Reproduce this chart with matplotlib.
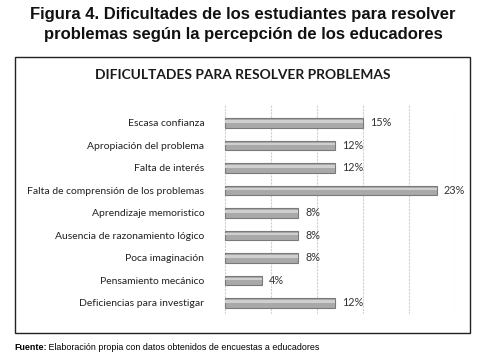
import matplotlib
matplotlib.use("Agg")
import matplotlib.pyplot as plt
from matplotlib.patches import Rectangle

# data
categories = [
    "Escasa confianza",
    "Apropiación del problema",
    "Falta de interés",
    "Falta de comprensión de los problemas",
    "Aprendizaje memoristico",
    "Ausencia de razonamiento lógico",
    "Poca imaginación",
    "Pensamiento mecánico",
    "Deficiencias para investigar",
]
values = [15, 12, 12, 23, 8, 8, 8, 4, 12]
value_labels = [f"{v}%" for v in values]
grid_ticks = [0, 5, 10, 15, 20, 25]

W, H = 486, 361
fig = plt.figure(figsize=(W / 100, H / 100), dpi=100)

# outer titles
fig.text(0.5, 1 - 15 / H, "Figura 4. Dificultades de los estudiantes para resolver",
         ha="center", va="center", fontsize=12, fontweight="bold",
         family="Liberation Sans", color="#111111")
fig.text(0.5, 1 - 35 / H, "problemas según la percepción de los educadores",
         ha="center", va="center", fontsize=12, fontweight="bold",
         family="Liberation Sans", color="#111111")

# frame around the chart
fig.patches.append(Rectangle((15 / W, 1 - 333 / H), 455 / W, 276 / H,
                             transform=fig.transFigure, fill=False,
                             edgecolor="#222222", linewidth=1.0))

fig.text(243 / W, 1 - 75 / H, "DIFICULTADES PARA RESOLVER PROBLEMAS",
         ha="center", va="center", fontsize=9.9, fontweight="bold",
         family="Lato", color="#1a1a1a")

ax = fig.add_axes([221 / W, 1 - 314 / H, 234 / W, 210 / H])
y = list(range(len(categories)))

for g in grid_ticks:
    ax.axvline(g, color="#d0d0d0", linewidth=0.8, linestyle=(0, (2, 1)), zorder=0)

ax.barh(y, values, height=0.42, left=0, color="#a9a9a9",
        edgecolor="#7a7a7a", linewidth=0.8, zorder=2)
# light highlight to suggest the cylinder shape
ax.barh([i - 0.06 for i in y], values, height=0.12, left=0,
        color="#cfcfcf", linewidth=0, zorder=3)

for i, (v, lab) in enumerate(zip(values, value_labels)):
    ax.text(v + 0.75, i, lab, ha="left", va="center", fontsize=7.8,
            family="Lato", color="#333333")

ax.set_xlim(-0.4, 25)
ax.set_ylim(8.49, -0.84)
ax.set_yticks(y)
ax.set_yticklabels(categories, fontsize=7.45, family="Lato", color="#222222")
ax.tick_params(axis="y", length=0, pad=12)
ax.set_xticks([])
for s in ax.spines.values():
    s.set_visible(False)

# footer
src = fig.text(14 / W, 1 - 347 / H, "Fuente:", ha="left", va="center",
               fontsize=6.4, fontweight="bold", family="Liberation Sans")
ax.annotate(" Elaboración propia con datos obtenidos de encuestas a educadores",
            xy=(1, 0.5), xycoords=src, ha="left", va="center",
            fontsize=6.4, family="Liberation Sans", annotation_clip=False)

fig.savefig("out.png", dpi=100)
